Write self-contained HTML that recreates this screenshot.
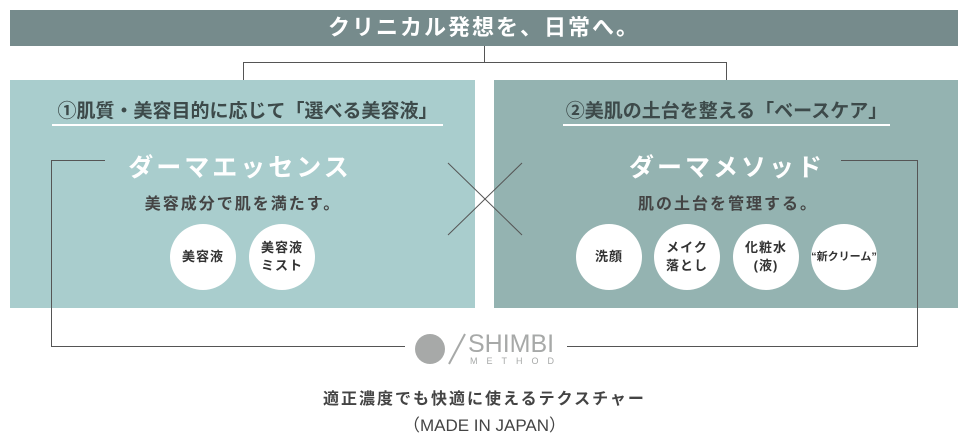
<!DOCTYPE html>
<html><head><meta charset="utf-8"><style>
body{margin:0;width:969px;height:442px;background:#fff;position:relative;overflow:hidden;font-family:"Liberation Sans","Noto Sans CJK JP",sans-serif;}
.a{position:absolute}
.bar{left:10px;top:10px;width:948px;height:36px;background:#768b8c;color:#fff;font-size:22px;font-weight:bold;text-align:center;line-height:36px;letter-spacing:2px}
.p{top:80px;height:228px;width:465px}
.h{font-size:19px;font-weight:bold;color:#3d4a4a;text-align:center;white-space:nowrap}
.u{height:2px;background:#fff}
.t{color:#fff;font-size:25px;font-weight:bold;letter-spacing:3px;text-align:center;white-space:nowrap}
.s{color:#444;font-size:16px;font-weight:bold;text-align:center;letter-spacing:2px;white-space:nowrap}
.c{width:66px;height:66px;border-radius:50%;background:#fff;display:flex;align-items:center;justify-content:center;text-align:center;font-size:13px;font-weight:bold;color:#333;line-height:18px;letter-spacing:1px}
.ln{background:#555}
</style></head><body>
<div class="a bar">クリニカル発想を、日常へ。</div>
<div class="a ln" style="left:484px;top:46px;width:1px;height:16px"></div>
<div class="a ln" style="left:243px;top:62px;width:484px;height:1px"></div>
<div class="a ln" style="left:243px;top:62px;width:1px;height:18px"></div>
<div class="a ln" style="left:726px;top:62px;width:1px;height:18px"></div>
<div class="a p" style="left:10px;background:#a9cdcd"></div>
<div class="a p" style="left:494px;width:464px;background:#94b3b1"></div>
<div class="a h" style="left:52px;width:391px;top:96px">①肌質・美容目的に応じて「選べる美容液」</div>
<div class="a u" style="left:52px;width:391px;top:124px"></div>
<div class="a h" style="left:563px;width:327px;top:96px">②美肌の土台を整える「ベースケア」</div>
<div class="a u" style="left:563px;width:327px;top:124px"></div>
<div class="a ln" style="left:51px;top:160px;width:1px;height:187px"></div>
<div class="a ln" style="left:51px;top:160px;width:54px;height:1px"></div>
<div class="a ln" style="left:51px;top:346px;width:354px;height:1px"></div>
<div class="a ln" style="left:917px;top:160px;width:1px;height:187px"></div>
<div class="a ln" style="left:841px;top:160px;width:77px;height:1px"></div>
<div class="a ln" style="left:567px;top:346px;width:351px;height:1px"></div>
<svg class="a" style="left:0;top:0" width="969" height="442"><line x1="448" y1="163" x2="522" y2="235" stroke="#555"/><line x1="522" y1="163" x2="448" y2="235" stroke="#555"/></svg>
<div class="a t" style="left:110px;width:260px;top:148px">ダーマエッセンス</div>
<div class="a s" style="left:110px;width:266px;top:190px">美容成分で肌を満たす。</div>
<div class="a t" style="left:597px;width:260px;top:148px">ダーマメソッド</div>
<div class="a s" style="left:600px;width:256px;top:190px">肌の土台を管理する。</div>
<div class="a c" style="left:170px;top:224px">美容液</div>
<div class="a c" style="left:249px;top:224px">美容液<br>ミスト</div>
<div class="a c" style="left:576px;top:224px">洗顔</div>
<div class="a c" style="left:654px;top:224px">メイク<br>落とし</div>
<div class="a c" style="left:733px;top:224px">化粧水<br>(液)</div>
<div class="a c" style="left:811px;top:224px;font-size:11px;letter-spacing:0">“新クリーム”</div>
<div class="a" style="left:415px;top:334px;width:30px;height:30px;border-radius:50%;background:#a7a9a8"></div>
<svg class="a" style="left:445px;top:332px" width="22" height="34"><line x1="20" y1="2" x2="4" y2="32" stroke="#a7a9a8" stroke-width="2"/></svg>
<div class="a" style="left:468px;top:330px;font-size:25px;color:#a7a9a8;letter-spacing:0px">SHIMBI</div>
<div class="a" style="left:470px;top:356px;font-size:9px;color:#a7a9a8;letter-spacing:9px">METHOD</div>
<div class="a s" style="left:0;width:969px;top:385px;color:#444">適正濃度でも快適に使えるテクスチャー</div>
<div class="a" style="left:0;width:969px;top:411px;text-align:center;font-size:17px;color:#444">（MADE IN JAPAN）</div>
</body></html>
